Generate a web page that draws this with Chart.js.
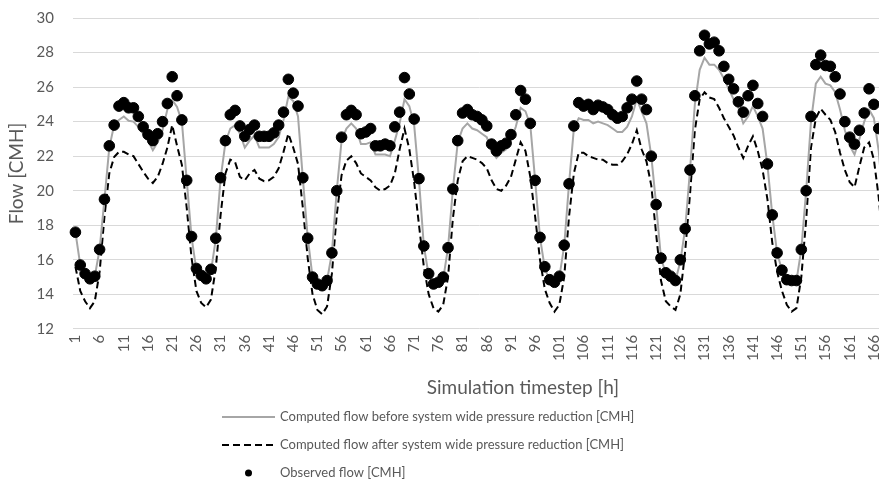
<!DOCTYPE html>
<html>
<head>
<meta charset="utf-8">
<script src="https://cdn.jsdelivr.net/npm/chart.js@4.4.1/dist/chart.umd.min.js"></script>
<style>
  html, body { margin: 0; padding: 0; background: #fff; overflow: hidden; }
  #wrap { position: relative; width: 886px; height: 479px; }
</style>
</head>
<body>
<div id="wrap"><canvas id="flowChart"></canvas></div>
<script>
// hourly timesteps 1..168 (one week)
const timesteps = Array.from({ length: 168 }, (_, i) => String(i + 1));

const flowBefore = [
  17.6, 15.7, 15.2, 14.95, 15.05, 16.6, 19.5, 22.5, 23.8, 24.1, 24.3, 24.05, 24.0, 23.7, 23.3, 22.9, 22.35, 22.8, 23.5, 24.7, 25.25, 24.85, 24.0, 20.6,
  17.3, 15.4, 15.0, 14.9, 15.3, 17.2, 20.7, 22.8, 23.6, 23.8, 23.3, 22.5, 22.9, 23.2, 22.5, 22.5, 22.5, 22.7, 23.1, 24.1, 25.45, 25.2, 24.3, 20.7,
  17.3, 15.0, 14.6, 14.5, 14.8, 16.4, 20.0, 22.9, 23.6, 23.9, 23.6, 22.7, 22.7, 22.8, 22.1, 22.1, 22.1, 22.0, 22.9, 23.9, 25.3, 24.9, 23.8, 20.6,
  16.8, 15.1, 14.6, 14.6, 14.9, 16.7, 20.1, 22.8, 23.6, 23.9, 23.6, 23.5, 23.3, 23.1, 22.3, 21.9, 22.2, 22.4, 22.9, 23.7, 24.8, 24.6, 23.8, 20.6,
  17.3, 15.5, 14.8, 14.7, 15.0, 16.8, 20.4, 23.6, 24.2, 24.1, 24.1, 23.9, 24.0, 23.9, 23.8, 23.6, 23.4, 23.4, 23.7, 24.3, 25.3, 24.6, 23.9, 22.0,
  19.2, 16.1, 15.2, 15.0, 14.8, 15.9, 17.8, 21.2, 25.0, 27.0, 27.7, 27.3, 27.3, 27.0, 26.5, 25.9, 25.3, 24.8, 23.9, 24.3, 24.9, 24.3, 23.6, 21.5,
  18.6, 16.4, 15.4, 14.9, 14.8, 14.8, 16.6, 20.0, 24.0, 26.2, 26.6, 26.2, 26.1, 25.7, 24.7, 23.5, 22.6, 22.1, 23.0, 24.0, 24.7, 24.2, 22.3, 19.0
];

const flowAfter = [
  15.6, 14.2, 13.6, 13.2, 13.6, 15.3, 18.5, 21.0, 21.95, 22.25, 22.25, 22.1, 22.0, 21.55, 21.1, 20.7, 20.45, 20.8, 21.55, 22.5, 23.8, 22.6, 21.5, 19.0,
  16.1, 14.2, 13.5, 13.25, 13.7, 15.5, 18.6, 21.0, 21.8, 21.65, 20.8, 20.6, 21.0, 21.2, 20.7, 20.55, 20.6, 20.8, 21.3, 22.25, 23.3, 22.5, 21.55, 19.0,
  16.1, 14.0, 13.1, 12.85, 13.3, 15.2, 18.6, 20.9, 21.75, 22.0, 21.6, 21.0, 20.8, 20.6, 20.2, 20.0, 20.1, 20.3, 21.0, 22.4, 23.6, 22.4, 20.5, 18.0,
  15.6, 14.0, 13.2, 13.0, 13.4, 15.0, 18.4, 20.6, 21.7, 22.0, 21.9, 21.8, 21.6, 21.3, 20.6, 20.1, 20.0, 20.3, 20.8, 21.8, 22.8, 22.3, 20.8, 18.5,
  16.0, 14.3, 13.5, 13.0, 13.4, 15.0, 18.5, 21.0, 22.2, 22.2, 22.0, 21.9, 21.8, 21.8, 21.6, 21.5, 21.5, 21.7, 22.1, 22.7, 23.5, 22.4, 21.7, 20.3,
  17.5, 14.8, 13.6, 13.3, 13.1, 14.0, 16.5, 19.8, 23.5, 25.3, 25.7, 25.4, 25.3, 24.8, 24.2, 23.7, 23.2, 22.5, 21.9, 22.6, 23.15, 22.3, 21.2, 19.5,
  17.0, 15.3, 14.2, 13.4, 13.0, 13.2, 15.0, 18.3, 22.5, 24.2, 24.75, 24.4, 24.1, 23.4, 22.2, 21.2, 20.5, 20.2, 21.4, 22.5, 22.8, 21.8, 19.6, 16.5
];

const flowObserved = [
  17.6, 15.7, 15.2, 14.9, 15.05, 16.6, 19.5, 22.6, 23.8, 24.9, 25.1, 24.8, 24.8, 24.3, 23.7, 23.25, 22.9, 23.3, 24.0, 25.05, 26.6, 25.5, 24.1, 20.6,
  17.35, 15.5, 15.1, 14.9, 15.45, 17.25, 20.75, 22.9, 24.4, 24.65, 23.75, 23.15, 23.55, 23.8, 23.15, 23.15, 23.15, 23.35, 23.8, 24.55, 26.45, 25.65, 24.9, 20.75,
  17.25, 15.0, 14.6, 14.5, 14.8, 16.4, 20.0, 23.1, 24.4, 24.65, 24.4, 23.3, 23.4, 23.6, 22.6, 22.6, 22.7, 22.6, 23.7, 24.55, 26.55, 25.6, 24.15, 20.7,
  16.8, 15.2, 14.6, 14.7, 15.0, 16.7, 20.1, 22.9, 24.5, 24.7, 24.4, 24.3, 24.1, 23.75, 22.7, 22.3, 22.6, 22.75, 23.25, 24.4, 25.8, 25.3, 23.9, 20.6,
  17.3, 15.6, 14.85, 14.7, 15.05, 16.85, 20.4, 23.75, 25.1, 24.9, 25.0, 24.7, 24.95, 24.85, 24.7, 24.4, 24.2, 24.3, 24.8, 25.3, 26.35, 25.3, 24.7, 22.0,
  19.2, 16.1, 15.25, 15.05, 14.8, 16.0, 17.8, 21.2, 25.5, 28.1, 29.0, 28.5, 28.6, 28.1, 27.2, 26.45, 25.9, 25.15, 24.55, 25.5, 26.1, 25.05, 24.3, 21.55,
  18.6, 16.4, 15.4, 14.85, 14.8, 14.8, 16.6, 20.0, 24.3, 27.3, 27.85, 27.25, 27.2, 26.6, 25.6, 24.0, 23.1, 22.7, 23.5, 24.5, 25.9, 25.0, 23.6, null
];

const seriesLabels = [
  'Computed flow before system wide pressure reduction [CMH]',
  'Computed flow after system wide pressure reduction [CMH]',
  'Observed flow [CMH]'
];
const xAxisTitle = 'Simulation timestep [h]';
const yAxisTitle = 'Flow [CMH]';

Chart.defaults.font.family = 'Lato, "Open Sans", sans-serif';
Chart.defaults.color = '#595959';

// x title + legend stacked under the axis
const footerLegend = {
  id: 'footerLegend',
  afterDraw: (chart) => {
    const ctx = chart.ctx;
    ctx.save();
    ctx.fillStyle = '#595959';
    ctx.textBaseline = 'middle';
    ctx.font = '19px Lato, sans-serif';
    ctx.textAlign = 'center';
    ctx.fillText(xAxisTitle, 523, 388);

    ctx.font = '13px Lato, sans-serif';
    ctx.textAlign = 'left';
    chart.data.datasets.forEach((ds, i) => {
      const y = 417 + i * 28;
      if (ds.showLine === false) {
        ctx.beginPath();
        ctx.arc(248.5, y, 3.5, 0, Math.PI * 2);
        ctx.fillStyle = ds.pointBackgroundColor;
        ctx.fill();
      } else {
        ctx.beginPath();
        ctx.setLineDash(ds.borderDash || []);
        ctx.lineWidth = ds.borderWidth;
        ctx.strokeStyle = ds.borderColor;
        ctx.moveTo(222, y);
        ctx.lineTo(275, y);
        ctx.stroke();
        ctx.setLineDash([]);
      }
      ctx.fillStyle = '#595959';
      ctx.fillText(ds.label, 280, y);
    });
    ctx.restore();
  }
};

new Chart(document.getElementById('flowChart'), {
  type: 'line',
  data: {
    labels: timesteps,
    datasets: [
      {
        label: seriesLabels[0],
        data: flowBefore,
        borderColor: '#a6a6a6',
        borderWidth: 2,
        pointRadius: 0,
        fill: false,
        order: 1
      },
      {
        label: seriesLabels[1],
        data: flowAfter,
        borderColor: '#000000',
        borderWidth: 2,
        borderDash: [7, 4],
        pointRadius: 0,
        fill: false,
        order: 2
      },
      {
        label: seriesLabels[2],
        data: flowObserved,
        showLine: false,
        borderColor: '#000000',
        pointBackgroundColor: '#000000',
        pointBorderColor: '#000000',
        pointRadius: 5.3,
        order: 0
      }
    ]
  },
  options: {
    animation: false,
    responsive: true,
    maintainAspectRatio: false,
    layout: { autoPadding: false, padding: { top: 18, right: 0, bottom: 112, left: 0 } },
    plugins: {
      legend: { display: false },
      tooltip: { enabled: false }
    },
    scales: {
      x: {
        type: 'category',
        offset: true,
        grid: { display: false, drawTicks: false },
        border: { display: false },
        ticks: {
          autoSkip: false,
          minRotation: 90,
          maxRotation: 90,
          padding: 6,
          font: { size: 15 },
          callback: function (value, index) {
            return index % 5 === 0 ? this.getLabelForValue(value) : '';
          }
        },
        // no side padding, the plot runs to the edge
        afterFit: (scale) => {
          scale.paddingLeft = 0;
          scale.paddingRight = 0;
        }
      },
      y: {
        min: 12,
        max: 30,
        grid: { color: '#d9d9d9', lineWidth: 1, drawTicks: false },
        border: { display: false },
        ticks: { stepSize: 2, padding: 19, font: { size: 15 } },
        title: {
          display: true,
          text: yAxisTitle,
          font: { size: 19 },
          padding: { top: 5, bottom: 4 }
        },
        afterFit: (scale) => {
          scale.width = 73;
          scale.paddingTop = 0;
        }
      }
    }
  },
  plugins: [footerLegend]
});
</script>
</body>
</html>
